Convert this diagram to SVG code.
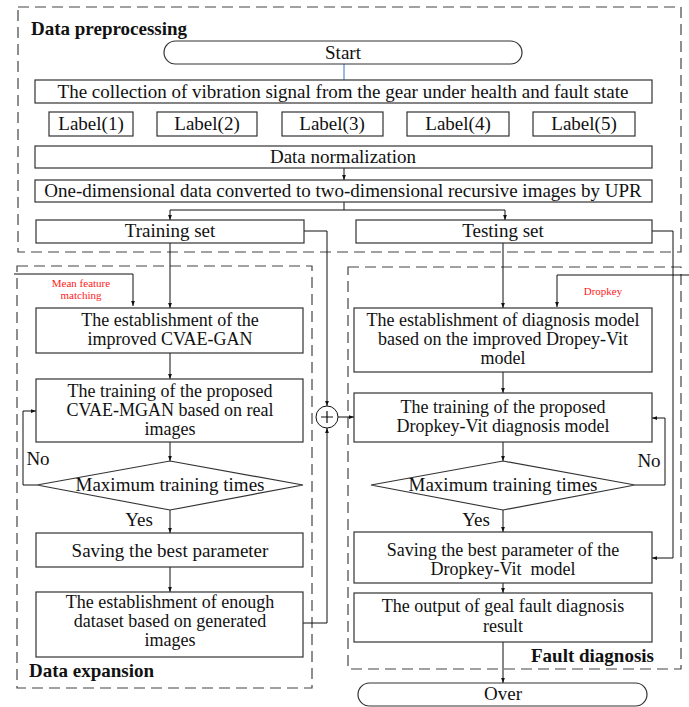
<svg xmlns="http://www.w3.org/2000/svg" width="689" height="707" viewBox="0 0 689 707">
<defs>
<marker id="arr" viewBox="0 0 8 8" refX="8" refY="4" markerWidth="5" markerHeight="5" orient="auto" markerUnits="userSpaceOnUse">
<path d="M0,1 L8,4 L0,7 z" fill="#111"/>
</marker>
<style>
.t{font-family:"Liberation Serif","Times New Roman",serif;font-size:19px;fill:#111;text-anchor:middle}
.m{font-family:"Liberation Serif","Times New Roman",serif;font-size:18px;fill:#111;text-anchor:middle}
.b{font-family:"Liberation Serif","Times New Roman",serif;font-size:19px;font-weight:bold;fill:#111}
.r{font-family:"Liberation Serif","Times New Roman",serif;font-size:11px;fill:#ff1a1a;text-anchor:middle}
.box{fill:#fff;stroke:#333;stroke-width:1.2}
.dash{fill:none;stroke:#444;stroke-width:1.2;stroke-dasharray:11,6}
.ln{fill:none;stroke:#111;stroke-width:1}
.la{fill:none;stroke:#111;stroke-width:1;marker-end:url(#arr)}
</style>
</defs>
<rect width="689" height="707" fill="#fff"/>

<g id="regions">
<rect id="preprocessing-region" class="dash" x="18" y="7" width="663" height="245"/>
<rect id="expansion-region" class="dash" x="17" y="266" width="295" height="422"/>
<rect id="diagnosis-region" class="dash" x="348" y="267" width="333" height="402"/>
<text class="b" x="31" y="35">Data preprocessing</text>
<text class="b" x="29" y="677">Data expansion</text>
<text class="b" x="531" y="662">Fault diagnosis</text>
</g>

<g id="connectors">
<line x1="344" y1="64" x2="344" y2="80" stroke="#3b6fd0" stroke-width="1"/>
<line class="la" x1="344" y1="168" x2="344" y2="180"/>
<polyline class="ln" points="344,202 344,210"/>
<polyline class="ln" points="170,210 505,210"/>
<line class="la" x1="170" y1="210" x2="170" y2="220"/>
<line class="la" x1="505" y1="210" x2="505" y2="220"/>
<line class="la" x1="170" y1="243" x2="170" y2="308"/>
<line class="la" x1="503" y1="243" x2="503" y2="308"/>
<polyline class="la" points="14,274 133,274 133,306"/>
<polyline class="la" points="689,275 557,275 557,307"/>
<line class="la" x1="170" y1="353" x2="170" y2="379"/>
<line class="la" x1="170" y1="442" x2="170" y2="461"/>
<line class="la" x1="170" y1="510" x2="170" y2="533"/>
<line class="la" x1="170" y1="567" x2="170" y2="592"/>
<polyline class="la" points="37,485 23,485 23,411 36,411"/>
<polyline class="la" points="304,231 327,231 327,406"/>
<polyline class="la" points="303,623 327,623 327,428"/>
<line class="la" x1="338" y1="417" x2="354" y2="417"/>
<line class="la" x1="503" y1="372" x2="503" y2="393"/>
<line class="la" x1="503" y1="442" x2="503" y2="461"/>
<line class="la" x1="503" y1="510" x2="503" y2="532"/>
<line class="la" x1="503" y1="583" x2="503" y2="593"/>
<line class="la" x1="503" y1="642" x2="503" y2="683"/>
<polyline class="la" points="635,485 665,485 665,418 652,418"/>
<polyline class="la" points="652,231 673,231 673,558 652,558"/>
<text class="r" x="81" y="287">Mean feature</text>
<text class="r" x="81" y="299">matching</text>
<text class="r" x="603" y="295">Dropkey</text>
<text class="t" x="38" y="465">No</text>
<text class="t" x="139" y="526">Yes</text>
<text class="t" x="649" y="467">No</text>
<text class="t" x="476" y="526">Yes</text>
</g>

<g id="start">
<rect class="box" x="164" y="41" width="358" height="23" rx="11.5"/>
<text class="t" x="343" y="59">Start</text>
</g>
<g id="collection">
<rect class="box" x="35" y="80" width="617" height="23"/>
<text class="t" x="343" y="98">The collection of vibration signal from the gear under health and fault state</text>
</g>
<g id="label1"><rect class="box" x="49" y="112" width="84" height="24"/><text class="t" x="91" y="130">Label(1)</text></g>
<g id="label2"><rect class="box" x="157" y="112" width="100" height="24"/><text class="t" x="207" y="130">Label(2)</text></g>
<g id="label3"><rect class="box" x="282" y="112" width="101" height="24"/><text class="t" x="332" y="130">Label(3)</text></g>
<g id="label4"><rect class="box" x="407" y="112" width="102" height="24"/><text class="t" x="458" y="130">Label(4)</text></g>
<g id="label5"><rect class="box" x="533" y="112" width="102" height="24"/><text class="t" x="584" y="130">Label(5)</text></g>
<g id="normalization">
<rect class="box" x="35" y="146" width="617" height="22"/>
<text class="t" x="343" y="163">Data normalization</text>
</g>
<g id="upr">
<rect class="box" x="35" y="180" width="617" height="22"/>
<text class="t" x="343" y="197">One-dimensional data converted to two-dimensional recursive images by UPR</text>
</g>
<g id="training-set">
<rect class="box" x="36" y="220" width="268" height="23"/>
<text class="t" x="170" y="237">Training set</text>
</g>
<g id="testing-set">
<rect class="box" x="356" y="220" width="296" height="23"/>
<text class="t" x="503" y="237">Testing set</text>
</g>

<g id="cvae-gan">
<rect class="box" x="36" y="308" width="267" height="45"/>
<text class="m" x="170" y="326">The establishment of the</text>
<text class="m" x="170" y="345">improved CVAE-GAN</text>
</g>
<g id="cvae-mgan">
<rect class="box" x="36" y="379" width="267" height="63"/>
<text class="m" x="170" y="397">The training of the proposed</text>
<text class="m" x="170" y="416">CVAE-MGAN based on real</text>
<text class="m" x="170" y="435">images</text>
</g>
<g id="max-left">
<polygon class="box" points="170,461 303,485 170,510 37,485"/>
<text class="t" x="170" y="491">Maximum training times</text>
</g>
<g id="save-left">
<rect class="box" x="36" y="533" width="267" height="34"/>
<text class="t" x="170" y="557">Saving the best parameter</text>
</g>
<g id="dataset">
<rect class="box" x="36" y="592" width="267" height="65"/>
<text class="m" x="170" y="608">The establishment of enough</text>
<text class="m" x="170" y="627">dataset based on generated</text>
<text class="m" x="170" y="646">images</text>
</g>

<g id="sum">
<circle cx="327" cy="417" r="11" fill="#fff" stroke="#111" stroke-width="1"/>
<path d="M321,417 H333 M327,411 V423" stroke="#111" stroke-width="1.2"/>
</g>

<g id="vit-model">
<rect class="box" x="354" y="308" width="298" height="64"/>
<text class="m" x="503" y="326">The establishment of diagnosis model</text>
<text class="m" x="503" y="345">based on the improved Dropey-Vit</text>
<text class="m" x="503" y="364">model</text>
</g>
<g id="vit-training">
<rect class="box" x="354" y="393" width="298" height="49"/>
<text class="m" x="503" y="413">The training of the proposed</text>
<text class="m" x="503" y="432">Dropkey-Vit diagnosis model</text>
</g>
<g id="max-right">
<polygon class="box" points="503,461 635,485 503,510 371,485"/>
<text class="t" x="503" y="491">Maximum training times</text>
</g>
<g id="save-right">
<rect class="box" x="354" y="532" width="298" height="51"/>
<text class="m" x="503" y="556">Saving the best parameter of the</text>
<text class="m" x="503" y="575">Dropkey-Vit&#160; model</text>
</g>
<g id="output">
<rect class="box" x="354" y="593" width="298" height="49"/>
<text class="m" x="503" y="612">The output of geal fault diagnosis</text>
<text class="m" x="503" y="632">result</text>
</g>
<g id="over">
<rect class="box" x="358" y="683" width="289" height="23" rx="11.5"/>
<text class="t" x="503" y="700">Over</text>
</g>
</svg>
